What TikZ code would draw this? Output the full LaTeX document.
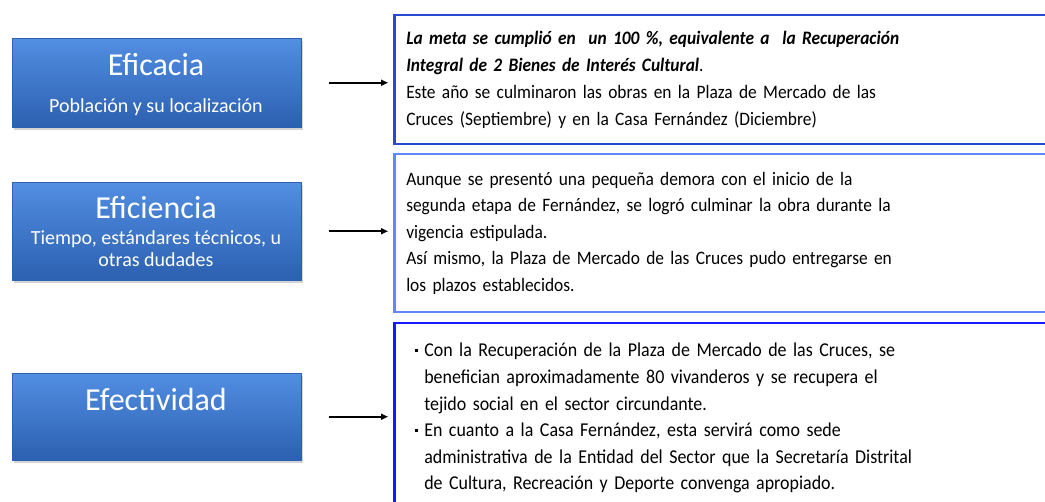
\documentclass[tikz,border=0pt]{standalone}
\usepackage{fontspec}
\setmainfont{Carlito}
\newfontfamily\narrowfont[FakeStretch=0.915]{Carlito}
\usetikzlibrary{shadows,arrows.meta}
\definecolor{boxtop}{RGB}{82,142,226}
\definecolor{boxbot}{RGB}{44,96,176}
\definecolor{edgeA}{RGB}{40,74,210}
\definecolor{edgeB}{RGB}{96,136,250}
\definecolor{edgeC}{RGB}{24,24,250}
\begin{document}
\begin{tikzpicture}[x=1pt,y=-1pt,
    indbox/.style={draw=boxbot, line width=0.5pt, top color=boxtop, bottom color=boxbot,
      minimum width=289pt, anchor=north west, inner sep=0pt,
      drop shadow={opacity=0.35,shadow xshift=1.5pt,shadow yshift=-2.5pt}},
    ttl/.style={text=white, font=\fontsize{32}{34}\selectfont, inner sep=0pt},
    sub/.style={text=white, font=\fontsize{20}{22}\selectfont, align=center, inner sep=0pt},
    resbox/.style={line width=2.5pt, anchor=north west, text width=640pt, inner xsep=12pt,
      align=left, font=\narrowfont\fontsize{19}{27}\selectfont},
    arr/.style={-{Triangle[length=7pt,width=6pt]}, line width=1.8pt}]
  \useasboundingbox (0,0) rectangle (1045,502);

  % indicadores
  \node[indbox, minimum height=89pt] (eficacia) at (12,38) {};
  \node[ttl] (eficaciaT) at (156,65) {Eficacia};
  \node[sub] (eficaciaS) at (156,107) {Población y su localización};

  \node[indbox, minimum height=98pt] (eficiencia) at (12,182) {};
  \node[ttl] (eficienciaT) at (156,208) {Eficiencia};
  \node[sub] (eficienciaS) at (156,249) {Tiempo, estándares técnicos, u\\otras dudades};

  \node[indbox, minimum height=87pt] (efectividad) at (12,373) {};
  \node[ttl] (efectividadT) at (156,400) {Efectividad};

  % resultados
  \node[resbox, draw=edgeA, minimum height=129pt] (meta) at (393,14)
    {\textbf{\textit{La meta se cumplió en \ un 100 \%, equivalente a \ la Recuperación}}\\
     \textbf{\textit{Integral de 2 Bienes de Interés Cultural}}.\\
     Este año se culminaron las obras en la Plaza de Mercado de las\\
     Cruces (Septiembre) y en la Casa Fernández (Diciembre)};

  \node[resbox, draw=edgeB, minimum height=158pt, font=\narrowfont\fontsize{19}{26.5}\selectfont] (plazos) at (393,153)
    {Aunque se presentó una pequeña demora con el inicio de la\\
     segunda etapa de Fernández, se logró culminar la obra durante la\\
     vigencia estipulada.\\
     Así mismo, la Plaza de Mercado de las Cruces pudo entregarse en\\
     los plazos establecidos.};

  \node[resbox, draw=edgeC, minimum height=190pt, inner xsep=30pt, font=\narrowfont\fontsize{19.6}{26.6}\selectfont] (impacto) at (393,322)
    {\leavevmode\llap{\raisebox{5pt}{\rule{3pt}{3pt}}\hspace{6pt}}Con la Recuperación de la Plaza de Mercado de las Cruces, se\\
     benefician aproximadamente 80 vivanderos y se recupera el\\
     tejido social en el sector circundante.\\
     \leavevmode\llap{\raisebox{5pt}{\rule{3pt}{3pt}}\hspace{6pt}}En cuanto a la Casa Fernández, esta servirá como sede\\
     administrativa de la Entidad del Sector que la Secretaría Distrital\\
     de Cultura, Recreación y Deporte convenga apropiado.};

  % flechas
  \draw[arr, shorten <=27pt, shorten >=5pt] (eficacia.east) -- (eficacia.east -| meta.west);
  \draw[arr, shorten <=27pt, shorten >=5pt] (eficiencia.east) -- (eficiencia.east -| plazos.west);
  \draw[arr, shorten <=27pt, shorten >=5pt] (efectividad.east) -- (efectividad.east -| impacto.west);
\end{tikzpicture}
\end{document}
